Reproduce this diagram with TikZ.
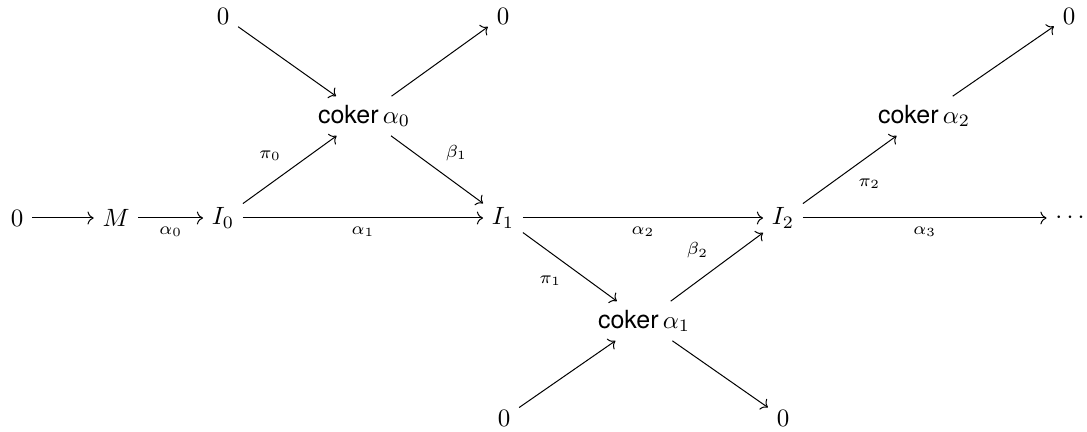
\documentclass[tikz,border=0pt]{standalone}
\usepackage{fontspec}
\setsansfont{TeX Gyre Heros}
\usetikzlibrary{positioning}
\usetikzlibrary{cd}

\begin{document}
\begin{tikzpicture}[x=0.4pt, y=-0.4pt, >=cm to, lbl/.style={font=\scriptsize}]
    \useasboundingbox (0,0) rectangle (1087,432);

    % main row
    \node (zero) at (17,218) {$0$};
    \node (M) at (116,218) {$M$};
    \node (I0) at (223,218) {$I_0$};
    \node (I1) at (503,218) {$I_1$};
    \node (I2) at (783,218) {$I_2$};
    \node (dots) at (1070,218) {$\cdots$};

    % cokernels
    \node (coker0) at (364,116) {$\textsf{coker}\,\alpha_0$};
    \node (coker1) at (644,321) {$\textsf{coker}\,\alpha_1$};
    \node (coker2) at (924,116) {$\textsf{coker}\,\alpha_2$};

    % zeros round the cokernels
    \node (zeroA) at (223,16) {$0$};
    \node (zeroB) at (503,16) {$0$};
    \node (zeroC) at (504,418) {$0$};
    \node (zeroD) at (783,418) {$0$};
    \node (zeroE) at (1069,16) {$0$};

    \draw [->] (zero) -- (M);
    \draw [->] (M) -- node[lbl, pos=0.5, below] {$\alpha_0$} (I0);
    \draw [->] (I0) -- node[lbl, pos=0.5, below] {$\alpha_1$} (I1);
    \draw [->] (I1) -- node[lbl, pos=0.5, below] {$\alpha_2$} (I2);
    \draw [->] (I2) -- node[lbl, pos=0.5, below] {$\alpha_3$} (dots);

    \draw [->] (I0) -- node[lbl, pos=0.5, above left] {$\pi_0$} (coker0);
    \draw [->] (coker0) -- node[lbl, pos=0.5, above right] {$\beta_1$} (I1);
    \draw [->] (I1) -- node[lbl, pos=0.5, below left] {$\pi_1$} (coker1);
    \draw [->] (coker1) -- node[lbl, pos=0.5, above left] {$\beta_2$} (I2);
    \draw [->] (I2) -- node[lbl, pos=0.5, below right] {$\pi_2$} (coker2);

    \draw [->] (zeroA) -- (coker0);
    \draw [->] (coker0) -- (zeroB);
    \draw [->] (zeroC) -- (coker1);
    \draw [->] (coker1) -- (zeroD);
    \draw [->] (coker2) -- (zeroE);
\end{tikzpicture}
\end{document}
